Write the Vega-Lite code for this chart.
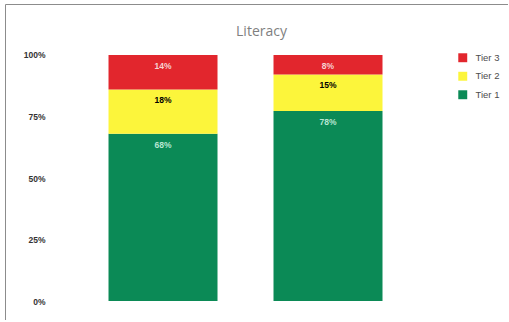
{
  "$schema": "https://vega.github.io/schema/vega-lite/v6.json",
  "autosize": {"type": "none"},
  "padding": {"left": 5, "top": 4, "right": 0, "bottom": 0},
  "width": 503,
  "height": 316,
  "background": "white",
  "config": {
    "view": {"stroke": "#8c8c8c", "strokeWidth": 1},
    "font": "Liberation Sans"
  },
  "title": {
    "text": "Literacy",
    "fontSize": 14,
    "fontWeight": "normal",
    "font": "Open Sans",
    "color": "#7f7f7f",
    "anchor": "middle",
    "offset": 0,
    "baseline": "middle",
    "dx": 5,
    "dy": 42
  },
  "data": {
    "values": [
      {"group": "Group A", "tier": "Tier 1", "order": 1, "value": 68, "label": "68%"},
      {"group": "Group A", "tier": "Tier 2", "order": 2, "value": 18, "label": "18%"},
      {"group": "Group A", "tier": "Tier 3", "order": 3, "value": 14, "label": "14%"},
      {"group": "Group B", "tier": "Tier 1", "order": 1, "value": 78, "label": "78%"},
      {"group": "Group B", "tier": "Tier 2", "order": 2, "value": 15, "label": "15%"},
      {"group": "Group B", "tier": "Tier 3", "order": 3, "value": 8, "label": "8%"}
    ]
  },
  "transform": [
    {"stack": "value", "groupby": ["group"], "sort": [{"field": "order", "order": "ascending"}], "offset": "normalize", "as": ["v0", "v1"]}
  ],
  "encoding": {
    "x": {
      "field": "group",
      "type": "nominal",
      "axis": null,
      "scale": {"paddingInner": 0.3394, "paddingOuter": 0.694, "align": 0.452}
    }
  },
  "layer": [
    {
      "mark": {"type": "bar"},
      "encoding": {
        "y": {
          "field": "v0",
          "type": "quantitative",
          "scale": {"domain": [-0.0772, 1.2073], "nice": false, "zero": false},
          "axis": {
            "values": [0, 0.25, 0.5, 0.75, 1],
            "format": ".0%",
            "domain": false,
            "ticks": false,
            "grid": false,
            "title": null,
            "offset": -42,
            "labelPadding": 2,
            "labelFontSize": 8.5,
            "labelFontWeight": "bold",
            "labelColor": "#333333"
          }
        },
        "y2": {"field": "v1"},
        "color": {
          "field": "tier",
          "type": "nominal",
          "scale": {"domain": ["Tier 3", "Tier 2", "Tier 1"], "range": ["#e2262d", "#fcf53b", "#0b8a56"]},
          "legend": {
            "orient": "none",
            "legendX": 453,
            "legendY": 49,
            "title": null,
            "symbolType": "square",
            "symbolSize": 80,
            "symbolStrokeWidth": 0,
            "symbolOpacity": 1,
            "labelFontSize": 9.5,
            "labelColor": "#4d4d4d",
            "labelOffset": 8,
            "rowPadding": 7.5
          }
        }
      }
    },
    {
      "mark": {"type": "text", "dy": 11, "baseline": "middle", "fontSize": 8.5, "fontWeight": "bold"},
      "encoding": {
        "y": {"field": "v1", "type": "quantitative"},
        "text": {"field": "label"},
        "color": {
          "condition": [
            {"test": "datum.tier === 'Tier 2'", "value": "#000000"},
            {"test": "datum.tier === 'Tier 3'", "value": "#f6d2d2"}
          ],
          "value": "#b8e6d2"
        }
      }
    }
  ]
}
